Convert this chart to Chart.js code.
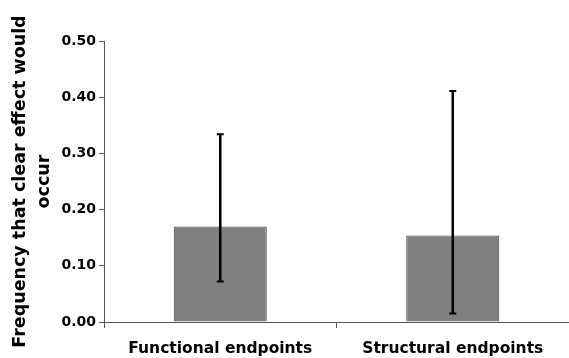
<!DOCTYPE html>
<html><head><meta charset="utf-8">
<script src="https://cdn.jsdelivr.net/npm/chart.js@4/dist/chart.umd.min.js"></script>
<style>html,body{margin:0;padding:0;background:#fff;}#wrap{width:569px;height:358px;}</style>
</head><body><div id="wrap"><canvas id="c"></canvas></div>
<script>
const categories = ["Functional endpoints", "Structural endpoints"];
const frequency = [0.170, 0.154];
const errLow = [0.072, 0.015];
const errHigh = [0.334, 0.411];
const yTitle = ["Frequency that clear effect would", "occur"];

const FONT = "'DejaVu Sans', Verdana, sans-serif";

const errorBars = {
  id: 'errorBars',
  afterDatasetsDraw(chart) {
    const ctx = chart.ctx;
    const meta = chart.getDatasetMeta(0);
    const y = chart.scales.y;
    ctx.save();
    ctx.strokeStyle = '#000';
    meta.data.forEach((bar, i) => {
      const x = bar.x;
      const yl = y.getPixelForValue(errLow[i]);
      const yh = y.getPixelForValue(errHigh[i]);
      ctx.lineWidth = 2.5;
      ctx.beginPath(); ctx.moveTo(x, yl); ctx.lineTo(x, yh); ctx.stroke();
      ctx.lineWidth = 2;
      ctx.beginPath();
      ctx.moveTo(x - 3.5, yl); ctx.lineTo(x + 3.5, yl);
      ctx.moveTo(x - 3.5, yh); ctx.lineTo(x + 3.5, yh);
      ctx.stroke();
    });
    ctx.restore();
  }
};

new Chart(document.getElementById('c'), {
  type: 'bar',
  data: {
    labels: categories,
    datasets: [{
      data: frequency,
      backgroundColor: '#808080',
      borderColor: '#454545',
      borderWidth: 1,
      categoryPercentage: 1.0,
      barPercentage: 0.4
    }]
  },
  options: {
    responsive: true,
    maintainAspectRatio: false,
    animation: false,
    layout: { padding: { top: 41, right: 0, left: 0, bottom: 0 } },
    plugins: { legend: { display: false }, tooltip: { enabled: false } },
    scales: {
      x: {
        grid: { display: true, drawOnChartArea: false, offset: true, tickLength: 6, color: '#555', lineWidth: 1 },
        border: { display: true, color: '#555', width: 1 },
        ticks: { color: '#000', font: { family: FONT, size: 15.5, weight: 'bold' }, padding: 12 },
        afterFit(s) { s.height = 36; }
      },
      y: {
        min: 0, max: 0.5,
        grid: { display: true, drawOnChartArea: false, tickLength: 5, color: '#555', lineWidth: 1 },
        border: { display: true, color: '#555', width: 1 },
        ticks: { stepSize: 0.1, color: '#000', font: { family: FONT, size: 14, weight: 'bold' }, padding: 3,
                 callback: v => Number(v).toFixed(2) },
        title: { display: true, text: yTitle, color: '#000', font: { family: FONT, size: 17.5, weight: 'bold', lineHeight: 1.37 }, padding: { top: 8, bottom: 2 } },
        afterFit(s) { s.width = 104; }
      }
    }
  },
  plugins: [errorBars]
});
</script></body></html>
